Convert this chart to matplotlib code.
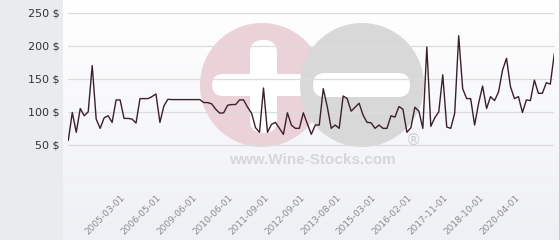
import numpy as np
import matplotlib.pyplot as plt
from matplotlib.colors import LinearSegmentedColormap
from matplotlib.patches import Circle, FancyBboxPatch, Rectangle

# price per bottle, one value per sale
prices = [57, 99, 69, 105, 94, 100, 170, 89, 75, 91,
          94, 84, 118, 118, 90, 90, 89, 83, 120, 120,
          120, 123, 127, 84, 109, 119, 118.5, 118.5, 118.5, 118.5,
          118.5, 118.5, 118.5, 118.5, 114, 114, 112, 104, 98, 98.5,
          110, 111, 111, 118, 118, 107, 98, 76, 69, 136,
          69, 81, 84, 75, 66, 98.5, 80, 75, 75, 98.5,
          82, 66, 80, 80, 135, 108, 75, 80, 75, 124,
          120, 101, 107, 113, 95, 84, 83.5, 75, 80, 75,
          75, 94, 92, 108, 104, 69, 76, 107, 101, 75,
          198, 78, 91, 100, 156, 77, 75, 98, 215, 135,
          120, 120, 80, 113, 139, 105, 123, 117, 130, 163,
          181, 138, 120, 123, 99, 118, 117, 148, 128, 128,
          144, 142, 188]

tick_labels = ['2005-03-01', '2006-05-01', '2009-06-01', '2010-06-01',
               '2011-09-01', '2012-09-01', '2013-08-01', '2015-03-01',
               '2016-02-01', '2017-11-01', '2018-10-01', '2020-04-01']
first_tick = 14
tick_step = 9

W, H = 560, 240
fig = plt.figure(figsize=(W / 100, H / 100), dpi=100)
fig.patch.set_facecolor('#e8ecef')

# light gradient background right of the grey side panel
bg = fig.add_axes([63 / W, 0, 1 - 63 / W, 1], zorder=-2)
grad = np.linspace(0, 1, 100)[:, None]
bg.imshow(grad, aspect='auto', extent=[0, 1, 0, 1], origin='upper',
          cmap=LinearSegmentedColormap.from_list('bg', ['#ffffff', '#eff0f5']))
bg.set_axis_off()

# watermark, in figure pixel coordinates
wm = fig.add_axes([0, 0, 1, 1], zorder=-1)
wm.set_xlim(0, W)
wm.set_ylim(H, 0)
wm.set_axis_off()
wm.patch.set_visible(False)
wm.add_patch(Circle((262, 85), 62, color='#ebd1d8', lw=0))
wm.add_patch(FancyBboxPatch((212, 74), 110, 22, boxstyle='round,pad=0,rounding_size=11',
                            color='white', lw=0))
wm.add_patch(FancyBboxPatch((250, 40), 27, 93, boxstyle='round,pad=0,rounding_size=13',
                            color='white', lw=0))
wm.add_patch(Circle((362, 85), 62, color='#d8d8d8', lw=0))
wm.add_patch(FancyBboxPatch((313, 73), 97, 24, boxstyle='round,pad=0,rounding_size=12',
                            color='white', lw=0))
wm.text(312, 160, 'www.Wine-Stocks.com', ha='center', va='center', fontsize=11,
        fontweight='bold', family='Liberation Sans', color='#d6d6d6')
wm.text(413, 140, '®', ha='center', va='center', fontsize=11, color='#cfcfcf')
wm.add_patch(Rectangle((558.5, 0), 1.5, H, color='#c8c8c8', lw=0))

ax = fig.add_axes([68.3 / W, (H - 178.3) / H, 486 / W, 166 / H], zorder=2)
ax.set_facecolor('none')
x = np.arange(len(prices))
ax.set_xlim(0, len(prices) - 1)
ax.set_ylim(-0.6, 250.6)

ax.plot(x, prices, color='#3a1f2c', lw=1)

ax.set_yticks([0, 50, 100, 150, 200, 250])
ax.set_yticklabels(['', '50 $', '100 $', '150 $', '200 $', '250 $'])
ax.grid(axis='y', color='#dcdcdc', lw=0.9)
ax.set_axisbelow(True)
ax.tick_params(axis='y', length=0, pad=6.5, labelsize=8, labelcolor='#333333')

ticks = [first_tick + tick_step * k for k in range(len(tick_labels))]
ax.set_xticks(ticks)
ax.set_xticklabels(tick_labels, rotation=45, ha='right', va='center',
                   rotation_mode='anchor')
ax.tick_params(axis='x', length=0, pad=13, labelsize=6.5, labelcolor='#8c8c8c')

for s in ax.spines.values():
    s.set_visible(False)

fig.savefig('out.png', dpi=100)
